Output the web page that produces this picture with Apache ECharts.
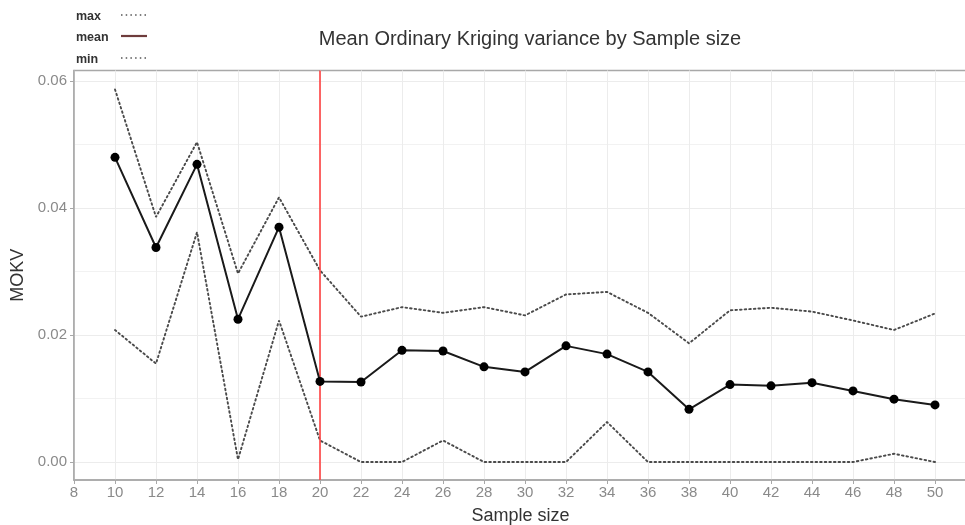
<!DOCTYPE html>
<html>
<head>
<meta charset="utf-8">
<title>Mean Ordinary Kriging variance by Sample size</title>
<script src="https://cdn.jsdelivr.net/npm/echarts@6/dist/echarts.min.js"></script>
<style>
  html, body { margin: 0; padding: 0; background: #fff; }
  #chart { width: 965px; height: 525px; }
</style>
</head>
<body>
<div id="chart"></div>
<script>
// Sample sizes tested
const sampleSizes = [10, 12, 14, 16, 18, 20, 22, 24, 26, 28, 30, 32, 34, 36, 38, 40, 42, 44, 46, 48, 50];

// Mean ordinary kriging variance per sample size
const meanValues = [0.0480, 0.0338, 0.0469, 0.0225, 0.0370, 0.0127, 0.0126, 0.0176, 0.0175, 0.0150, 0.0142,
                    0.0183, 0.0170, 0.0142, 0.0083, 0.0122, 0.0120, 0.0125, 0.0112, 0.0099, 0.0090];

// Upper envelope (max over repetitions)
const maxValues = [0.0587, 0.0386, 0.0504, 0.0297, 0.0417, 0.0302, 0.0229, 0.0244, 0.0235, 0.0244, 0.0231,
                   0.0264, 0.0268, 0.0235, 0.0187, 0.0239, 0.0243, 0.0237, 0.0223, 0.0208, 0.0234];

// Lower envelope (min over repetitions)
const minValues = [0.0208, 0.0155, 0.0362, 0.0004, 0.0223, 0.0034, 0.0000, 0.0000, 0.0034, 0.0000, 0.0000,
                   0.0000, 0.0063, 0.0000, 0.0000, 0.0000, 0.0000, 0.0000, 0.0000, 0.0013, 0.0000];

// Chosen sample size marked with a vertical reference line
const chosenSize = 20;

// Tick positions
const xTicks = [8, 10, 12, 14, 16, 18, 20, 22, 24, 26, 28, 30, 32, 34, 36, 38, 40, 42, 44, 46, 48, 50];
const yTicks = [0.00, 0.02, 0.04, 0.06];
const yMinorTicks = [0.01, 0.03, 0.05];

const pairs = (ys) => sampleSizes.map((x, i) => [x, ys[i]]);

const FONT = '"Liberation Sans", Arial, sans-serif';
const Y_MIN = -0.00283, Y_MAX = 0.06168;
const X_MIN = 8, X_MAX = 51.56;

const chart = echarts.init(document.getElementById('chart'), null, { renderer: 'canvas' });

const dotted = { type: [1.6, 3], width: 1.9, color: '#4a4a4a', cap: 'round' };

chart.setOption({
  animation: false,
  backgroundColor: '#fff',
  title: {
    text: 'Mean Ordinary Kriging variance by Sample size',
    left: 525, top: 24, textAlign: 'center',
    textStyle: { fontFamily: FONT, fontSize: 20, fontWeight: 'normal', color: '#333' }
  },
  legend: {
    orient: 'vertical',
    left: 66, top: 5,
    align: 'left',
    itemWidth: 0, itemHeight: 12, itemGap: 8.5,
    textStyle: { fontFamily: FONT, fontSize: 12.5, fontWeight: 'bold', color: '#333' },
    data: [
      { name: 'max', icon: 'none' },
      { name: 'mean', icon: 'none' },
      { name: 'min', icon: 'none' }
    ],
    selectedMode: false
  },
  grid: {
    left: 74, top: 70.5, right: -2, bottom: 45,
    outerBoundsMode: 'none',
    containLabel: false,
    show: true, borderColor: '#a8a8a8', borderWidth: 1.5, backgroundColor: '#fff'
  },
  xAxis: {
    type: 'value', min: X_MIN, max: X_MAX,
    name: 'Sample size', nameLocation: 'middle', nameGap: 27,
    nameTextStyle: { fontFamily: FONT, fontSize: 18, color: '#333' },
    axisLine: { show: true, onZero: false, lineStyle: { color: '#a8a8a8', width: 1.5 } },
    axisTick: { show: true, length: 4, lineStyle: { color: '#a8a8a8' }, customValues: xTicks },
    axisLabel: { fontFamily: FONT, fontSize: 15, color: '#8a8a8a', margin: 5, customValues: xTicks },
    splitLine: { show: true, lineStyle: { color: '#ececec', width: 1 } }
  },
  yAxis: [
    {
      type: 'value', min: Y_MIN, max: Y_MAX,
      name: 'MOKV', nameLocation: 'middle', nameGap: 47, nameRotate: 90,
      nameTextStyle: { fontFamily: FONT, fontSize: 18, color: '#333' },
      axisLine: { show: true, onZero: false, lineStyle: { color: '#a8a8a8', width: 1.5 } },
      axisTick: { show: true, length: 4, lineStyle: { color: '#a8a8a8' }, customValues: yTicks },
      axisLabel: {
        fontFamily: FONT, fontSize: 15, color: '#8a8a8a', margin: 7, customValues: yTicks,
        formatter: (v) => v.toFixed(2)
      },
      splitLine: { show: true, lineStyle: { color: '#ececec', width: 1 } }
    },
    {
      // minor horizontal gridlines
      type: 'value', min: Y_MIN, max: Y_MAX, position: 'left',
      axisLine: { show: false },
      axisTick: { show: false, customValues: yMinorTicks },
      axisLabel: { show: false, customValues: yMinorTicks },
      splitLine: { show: true, lineStyle: { color: '#f2f2f2', width: 1 } }
    }
  ],
  series: [
    {
      name: 'max', type: 'line', data: pairs(maxValues),
      symbol: 'none', lineStyle: dotted, itemStyle: { color: '#444' }, z: 3
    },
    {
      name: 'min', type: 'line', data: pairs(minValues),
      symbol: 'none', lineStyle: dotted, itemStyle: { color: '#444' }, z: 3,
      markLine: {
        silent: true, symbol: 'none', label: { show: false },
        lineStyle: { type: 'solid', color: '#ff4040', width: 1.6 },
        data: [{ xAxis: chosenSize }]
      }
    },
    {
      name: 'mean', type: 'line', data: pairs(meanValues),
      symbol: 'circle', symbolSize: 9,
      lineStyle: { color: '#1a1a1a', width: 2 }, itemStyle: { color: '#000' }, z: 5
    }
  ]
});

// Legend keys drawn to the right of each label: dotted for the envelopes, solid for the mean
chart.setOption({
  graphic: [
    { type: 'line', shape: { x1: 121, y1: 15, x2: 147, y2: 15 }, style: { stroke: '#555', lineWidth: 1.7, lineDash: [1.5, 3.2] } },
    { type: 'line', shape: { x1: 121, y1: 36, x2: 147, y2: 36 }, style: { stroke: '#6e3c3c', lineWidth: 2.2 } },
    { type: 'line', shape: { x1: 121, y1: 58, x2: 147, y2: 58 }, style: { stroke: '#555', lineWidth: 1.7, lineDash: [1.5, 3.2] } }
  ]
});
</script>
</body>
</html>
